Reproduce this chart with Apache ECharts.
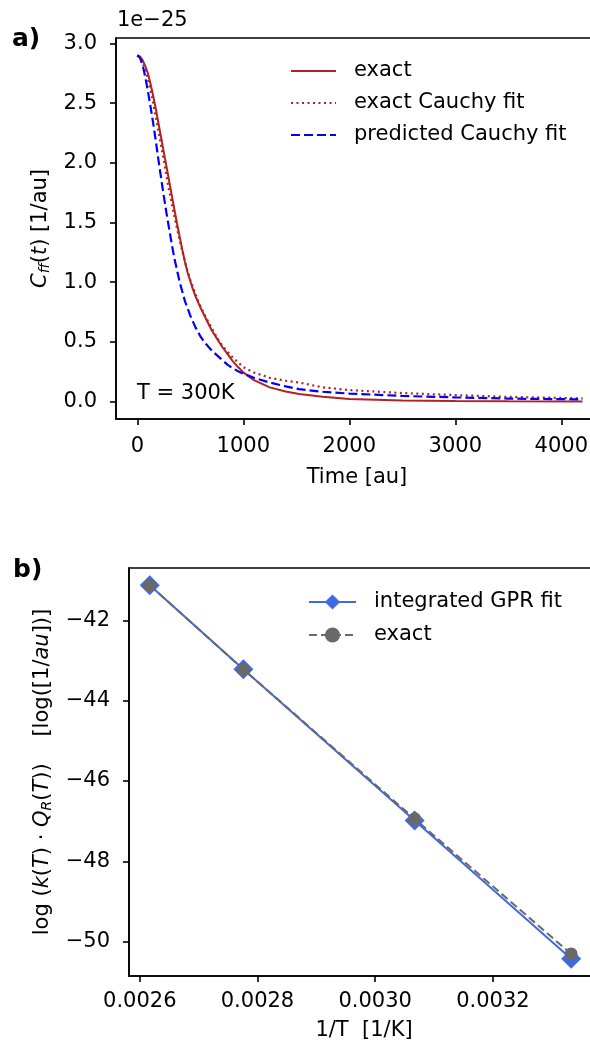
<!DOCTYPE html>
<html>
<head>
<meta charset="utf-8">
<script src="https://cdn.jsdelivr.net/npm/echarts@6/dist/echarts.min.js"></script>
<style>
html, body { margin: 0; padding: 0; background: #fff; }
#chart { width: 590px; height: 1046px; }
</style>
</head>
<body>
<div id="chart"></div>
<script>
"use strict";
// panel a) correlation function, values in units of 1e-25
var timeAu = [0, 25, 50, 75, 100, 125, 150, 175, 200, 225, 250, 275, 300, 325, 350, 375, 400, 425, 450, 475,
    500, 525, 550, 575, 600, 650, 700, 750, 800, 850, 900, 950,
    1000, 1100, 1250, 1400, 1527, 1750, 2000, 2500, 3000, 3500, 4200];
var exactC = [2.90, 2.89, 2.86, 2.81, 2.75, 2.66, 2.56, 2.45, 2.33, 2.21, 2.09, 1.97, 1.85, 1.73, 1.61, 1.49, 1.38, 1.27, 1.17, 1.08,
    1.01, 0.94, 0.88, 0.83, 0.78, 0.69, 0.60, 0.53, 0.46, 0.40, 0.34, 0.29,
    0.245, 0.18, 0.12, 0.085, 0.065, 0.042, 0.022, 0.010, 0.005, 0.003, 0.002];
var exactCauchy = [2.90, 2.88, 2.84, 2.78, 2.70, 2.61, 2.50, 2.38, 2.26, 2.14, 2.02, 1.89, 1.77, 1.66, 1.55, 1.45, 1.35, 1.26, 1.17, 1.09,
    1.02, 0.96, 0.90, 0.84, 0.79, 0.70, 0.62, 0.54, 0.47, 0.42, 0.37, 0.33,
    0.29, 0.245, 0.20, 0.175, 0.16, 0.12, 0.097, 0.072, 0.055, 0.040, 0.028];
var predCauchy = [2.90, 2.88, 2.82, 2.72, 2.60, 2.47, 2.33, 2.18, 2.02, 1.87, 1.72, 1.58, 1.45, 1.32, 1.20, 1.10, 1.00, 0.92, 0.84, 0.78,
    0.72, 0.67, 0.62, 0.58, 0.54, 0.48, 0.43, 0.39, 0.35, 0.31, 0.28, 0.255,
    0.235, 0.20, 0.16, 0.128, 0.105, 0.083, 0.068, 0.048, 0.036, 0.026, 0.019];
var cTicks = [0, 0.5, 1, 1.5, 2, 2.5, 3];
var tTicks = [0, 1000, 2000, 3000, 4000];

// panel b) rate constant vs 1/T
var invT = [0.002617, 0.002776, 0.003067, 0.003333];
var gprFit = [-41.13, -43.22, -46.98, -50.42];
var exactK = [-41.13, -43.22, -46.94, -50.30];
var kTicks = [-50, -48, -46, -44, -42];
var invTTicks = [0.0026, 0.0028, 0.0030, 0.0032];

function pairs(xs, ys) {
    return xs.map(function (x, i) { return [x, ys[i]]; });
}

var font = 'DejaVu Sans';
var fs = 21;
var axisBase = {
    axisLine: { onZero: false, lineStyle: { color: '#000', width: 1.6 } },
    axisTick: { show: true, length: 6, lineStyle: { color: '#000', width: 1.6 } },
    splitLine: { show: false },
    axisLabel: { color: '#000', fontFamily: font, fontSize: fs },
    nameTextStyle: { color: '#000', fontFamily: font, fontSize: fs },
    nameLocation: 'middle'
};
function axis(extra) {
    return echarts.util.merge(echarts.util.clone(axisBase), extra, true);
}
var richLabel = {
    i: { fontFamily: font, fontSize: fs, fontStyle: 'italic', color: '#000' },
    n: { fontFamily: font, fontSize: fs, color: '#000' },
    s: { fontFamily: font, fontSize: 14, fontStyle: 'italic', color: '#000', padding: [10, 0, 0, 0] }
};

var myChart = echarts.init(document.getElementById('chart'), null, { renderer: 'canvas' });
var option = {
    backgroundColor: '#fff',
    animation: false,
    grid: [
        { left: 116, top: 38, width: 482, height: 381, outerBoundsMode: 'none',
          show: true, borderColor: '#000', borderWidth: 1.6 },
        { left: 129, top: 568, width: 470, height: 408, outerBoundsMode: 'none',
          show: true, borderColor: '#000', borderWidth: 1.6 }
    ],
    xAxis: [
        axis({
            type: 'value', gridIndex: 0, min: -201, max: 4346,
            name: 'Time [au]', nameGap: 48,
            axisTick: { customValues: tTicks },
            axisLabel: { customValues: tTicks, margin: 17,
                formatter: function (v) { return String(v); } }
        }),
        axis({
            type: 'value', gridIndex: 1, min: 0.0025817, max: 0.0033803,
            name: '1/T  [1/K]', nameGap: 44,
            axisTick: { customValues: invTTicks },
            axisLabel: { customValues: invTTicks, margin: 15,
                formatter: function (v) { return v.toFixed(4); } }
        })
    ],
    yAxis: [
        axis({
            type: 'value', gridIndex: 0, min: -0.145, max: 3.045,
            name: '{i|C}{s|ff}{n|(}{i|t}{n|) [1/au]}', nameGap: 62,
            nameTextStyle: { rich: richLabel },
            axisTick: { customValues: cTicks },
            axisLabel: { customValues: cTicks, margin: 19,
                formatter: function (v) { return v.toFixed(1); } }
        }),
        axis({
            type: 'value', gridIndex: 1, min: -50.85, max: -40.70,
            name: '{n|log (}{i|k}{n|(}{i|T}{n|) · }{i|Q}{s|R}{n|(}{i|T}{n|))    [log([1/}{i|au}{n|])]}', nameGap: 74,
            nameTextStyle: { rich: richLabel },
            axisTick: { customValues: kTicks },
            axisLabel: { customValues: kTicks, margin: 19,
                formatter: function (v) { return '\u2212' + Math.abs(v); } }
        })
    ],
    legend: [
        {
            orient: 'vertical', left: 285, top: 55, itemWidth: 45, itemHeight: 14, itemGap: 10,
            itemStyle: { opacity: 0 },
            textStyle: { color: '#000', fontFamily: font, fontSize: fs, lineHeight: 22, padding: [0, 0, 0, 13] },
            data: ['exact', 'exact Cauchy fit', 'predicted Cauchy fit']
        },
        {
            orient: 'vertical', left: 303, top: 586, itemWidth: 47, itemHeight: 19, itemGap: 11,
            textStyle: { color: '#000', fontFamily: font, fontSize: fs, lineHeight: 22, padding: [0, 0, 0, 13] },
            data: ['integrated GPR fit', 'exact ']
        }
    ],
    graphic: [
        { type: 'text', left: 12, top: 27, style: { text: 'a)', fontFamily: font, fontSize: 25, fontWeight: 'bold', fill: '#000' } },
        { type: 'text', left: 13, top: 558, style: { text: 'b)', fontFamily: font, fontSize: 25, fontWeight: 'bold', fill: '#000' } },
        { type: 'text', left: 117, top: 10, style: { text: '1e\u221225', fontFamily: font, fontSize: fs, fill: '#000' } },
        { type: 'text', left: 137, top: 383, style: { text: 'T = 300K', fontFamily: font, fontSize: fs, fill: '#000' } }
    ],
    series: [
        {
            name: 'exact', type: 'line', xAxisIndex: 0, yAxisIndex: 0,
            data: pairs(timeAu, exactC), showSymbol: false, symbol: 'none',
            lineStyle: { color: '#b22222', width: 2 }, itemStyle: { color: '#b22222' }
        },
        {
            name: 'exact Cauchy fit', type: 'line', xAxisIndex: 0, yAxisIndex: 0,
            data: pairs(timeAu, exactCauchy), showSymbol: false, symbol: 'none',
            lineStyle: { color: '#b22222', width: 2.2, type: [2, 3.5] }, itemStyle: { color: '#b22222' }
        },
        {
            name: 'predicted Cauchy fit', type: 'line', xAxisIndex: 0, yAxisIndex: 0,
            data: pairs(timeAu, predCauchy), showSymbol: false, symbol: 'none',
            lineStyle: { color: '#0000ff', width: 2.2, type: [9, 4] }, itemStyle: { color: '#0000ff' }
        },
        {
            name: 'integrated GPR fit', type: 'line', xAxisIndex: 1, yAxisIndex: 1,
            data: pairs(invT, gprFit), symbol: 'diamond', symbolSize: 20,
            lineStyle: { color: '#4169e1', width: 2 }, itemStyle: { color: '#4169e1' }
        },
        {
            name: 'exact ', type: 'line', xAxisIndex: 1, yAxisIndex: 1,
            data: pairs(invT, exactK), symbol: 'circle', symbolSize: 13,
            lineStyle: { color: '#696969', width: 2, type: [8, 4] }, itemStyle: { color: '#696969' }
        }
    ]
};
myChart.setOption(option);
</script>
</body>
</html>
